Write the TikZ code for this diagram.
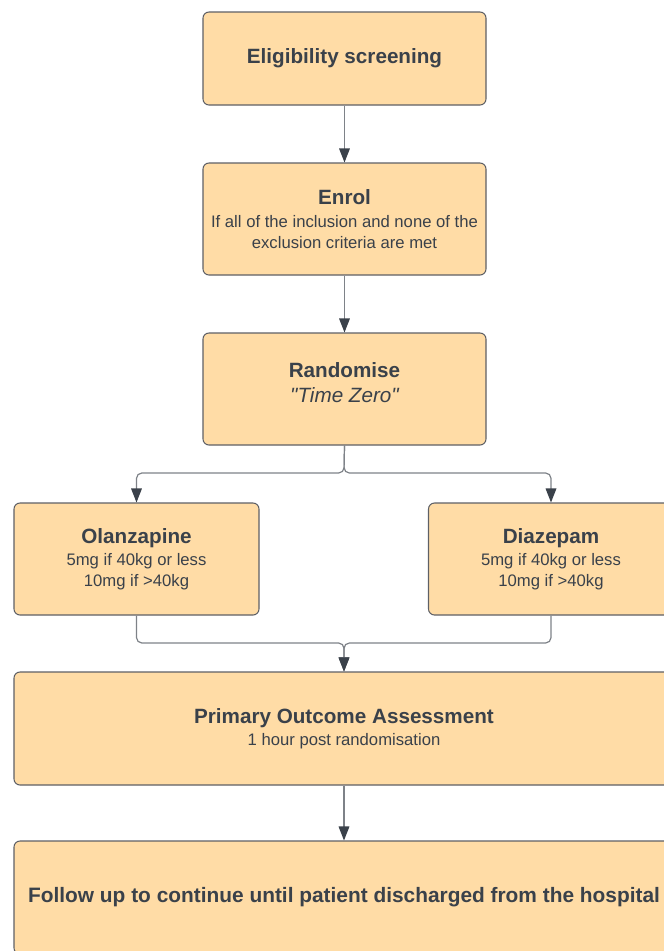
\documentclass[tikz,border=0pt]{standalone}
\usepackage{fontspec}
\setmainfont{Liberation Sans}
\usetikzlibrary{arrows.meta}
\definecolor{boxfill}{HTML}{FFDCA6}
\definecolor{boxline}{HTML}{5E6066}
\definecolor{txtcol}{HTML}{3A414A}
\definecolor{linecol}{HTML}{7E8288}
\newcommand{\ttl}[1]{{\fontsize{15.5}{18}\selectfont\bfseries #1}}
\begin{document}
\begin{tikzpicture}[x=0.75pt,y=-0.75pt,
  every node/.style={font=\fontsize{12.5}{15.75}\selectfont,text=txtcol},
  stepbox/.style={draw=boxline,fill=boxfill,rounded corners=4.5pt,line width=0.8pt,align=center,inner sep=0pt},
  conn/.style={draw=linecol,line width=0.9pt,rounded corners=4pt,-{Triangle[width=8pt,length=10.5pt,color=txtcol]}}]
\useasboundingbox (0,0) rectangle (664,951);
\clip (0,0) rectangle (664,951);
\node[stepbox,minimum width=212.25pt,minimum height=69.75pt] (elig) at (344.5,58.5) {\ttl{Eligibility screening}};
\node[stepbox,minimum width=212.25pt,minimum height=84pt] (enrol) at (344.5,219) {\ttl{Enrol}\\[1pt]If all of the inclusion and none of the\\exclusion criteria are met};
\node[stepbox,minimum width=212.25pt,minimum height=84pt,text depth=10pt] (rand) at (344.5,389) {\ttl{Randomise}\\[3pt]\itshape\fontsize{15.5}{18}\selectfont \textquotedbl Time Zero\textquotedbl};
\node[stepbox,minimum width=183.75pt,minimum height=84pt] (olan) at (136.5,559) {\ttl{Olanzapine}\\[1pt]5mg if 40kg or less\\10mg if >40kg};
\node[stepbox,minimum width=183.75pt,minimum height=84pt] (diaz) at (551,559) {\ttl{Diazepam}\\[1pt]5mg if 40kg or less\\10mg if >40kg};
\node[stepbox,minimum width=495pt,minimum height=84.75pt] (prim) at (344,728.5) {\ttl{Primary Outcome Assessment}\\[1pt]1 hour post randomisation};
\node[stepbox,minimum width=495pt,minimum height=84.75pt] (follow) at (344,897.5) {{\fontsize{15.65}{18}\selectfont\bfseries Follow up to continue until patient discharged from the hospital}};
\coordinate (split) at (344,473);
\coordinate (merge) at (344,643);
\draw[conn] (elig) -- (enrol);
\draw[conn] (enrol) -- (rand);
\draw[conn] (rand.south) -- (split) -| (olan.north);
\draw[conn] (rand.south) -- (split) -| (diaz.north);
\draw[conn] (olan.south) |- (merge) -- (prim.north);
\draw[conn] (diaz.south) |- (merge) -- (prim.north);
\draw[conn] (prim) -- (follow);
\end{tikzpicture}
\end{document}
